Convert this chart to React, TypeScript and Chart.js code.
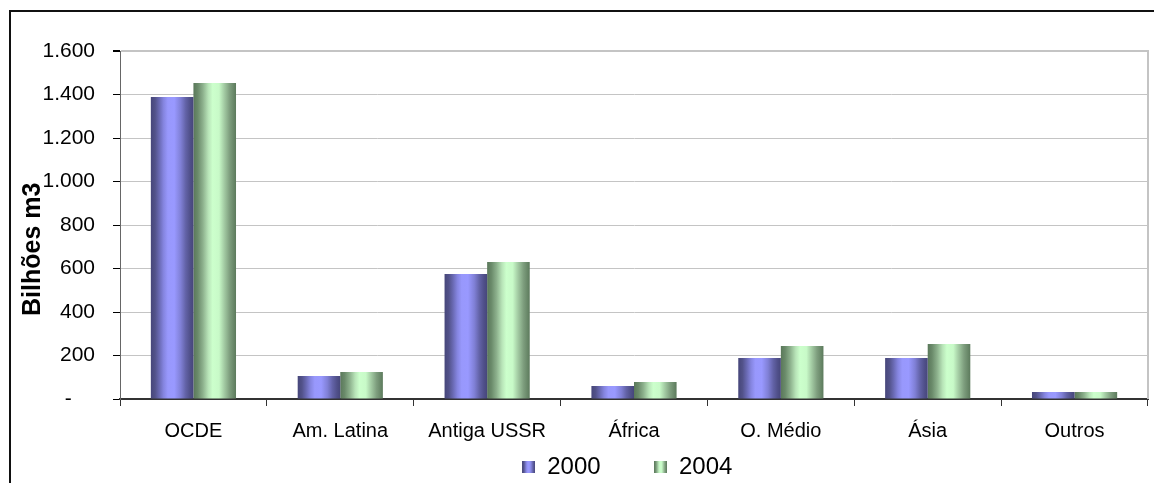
import React, { useEffect, useRef } from 'react';
import { Chart, registerables } from 'chart.js';

Chart.register(...registerables);

// ---- data ----
const categories = ['OCDE', 'Am. Latina', 'Antiga USSR', 'África', 'O. Médio', 'Ásia', 'Outros'];
const series2000 = [1388, 106, 575, 60, 188, 188, 32];
const series2004 = [1453, 124, 630, 78, 244, 253, 32];
const seriesNames = ['2000', '2004'];
const yTickValues = [0, 200, 400, 600, 800, 1000, 1200, 1400, 1600];
const yTickLabels = ['-', '200', '400', '600', '800', '1.000', '1.200', '1.400', '1.600'];
const yAxisTitle = 'Bilhões m3';

// ---- styles ----
const FONT = "'Liberation Sans', Arial, sans-serif";
const CATEGORY_PCT = 0.58;
const NB = '\u00a0';

const stops2000: [number, string][] = [
  [0, '#46467a'], [0.1, '#52528a'], [0.2, '#6a6ab4'], [0.3, '#8585e0'], [0.4, '#9898fc'],
  [0.55, '#9999ff'], [0.7, '#8080d6'], [0.82, '#6262a6'], [0.92, '#50508a'], [1, '#46467a'],
];
const stops2004: [number, string][] = [
  [0, '#5a785a'], [0.1, '#6a8a6a'], [0.22, '#8cb08c'], [0.35, '#b8e4b8'], [0.45, '#ccffcc'],
  [0.6, '#c8fac8'], [0.72, '#a4cca4'], [0.85, '#7e9e7e'], [1, '#5c7a5c'],
];

function barFill(stops: [number, string][], datasetIndex: number) {
  return (ctx: any) => {
    const chart = ctx.chart;
    const xs = chart.scales && chart.scales.x;
    if (ctx.type !== 'data' || !xs || !xs.width) return stops[4][1];
    const n = categories.length;
    const catW = xs.width / n;
    const group = catW * CATEGORY_PCT;
    const slot = group / 2;
    const center = xs.getPixelForValue(ctx.dataIndex);
    const left = center - group / 2 + slot * datasetIndex;
    const g = chart.ctx.createLinearGradient(left, 0, left + slot, 0);
    stops.forEach(([o, c]) => g.addColorStop(o, c));
    return g;
  };
}

function makeSwatch(stops: [number, string][]) {
  const c = document.createElement('canvas');
  c.width = 13;
  c.height = 12;
  const g2 = c.getContext('2d')!;
  const gr = g2.createLinearGradient(0, 0, 13, 0);
  stops.forEach(([o, col]) => gr.addColorStop(o, col));
  g2.fillStyle = gr;
  g2.fillRect(0, 0, 13, 12);
  return c;
}

const framePlugin = {
  id: 'frame',
  beforeDatasetsDraw(chart: any) {
    const { ctx, chartArea } = chart;
    ctx.save();
    ctx.strokeStyle = '#c4c4c4';
    ctx.lineWidth = 2;
    ctx.beginPath();
    ctx.moveTo(chartArea.right, chartArea.top - 1);
    ctx.lineTo(chartArea.right, chartArea.bottom);
    ctx.stroke();
    ctx.restore();
  },
  afterDraw(chart: any) {
    const { ctx, width, height } = chart;
    ctx.save();
    ctx.strokeStyle = '#111';
    ctx.lineWidth = 2;
    ctx.beginPath();
    ctx.moveTo(10, height + 2);
    ctx.lineTo(10, 11);
    ctx.lineTo(width + 2, 11);
    ctx.stroke();
    ctx.restore();
  },
};

export default function App() {
  const ref = useRef<HTMLCanvasElement>(null);

  useEffect(() => {
    if (!ref.current) return;
    Chart.defaults.font.family = FONT;
    Chart.defaults.color = '#000';
    const swatches = [makeSwatch(stops2000), makeSwatch(stops2004)];
    const legendTexts = [seriesNames[0] + NB.repeat(8), seriesNames[1] + NB.repeat(2)];

    const chart = new Chart(ref.current, {
      type: 'bar',
      data: {
        labels: categories,
        datasets: [
          { label: seriesNames[0], data: series2000, backgroundColor: barFill(stops2000, 0) as any },
          { label: seriesNames[1], data: series2004, backgroundColor: barFill(stops2004, 1) as any },
        ],
      },
      options: {
        responsive: false,
        animation: false,
        layout: { padding: { top: 51, right: 6, left: 0, bottom: 0 } },
        datasets: { bar: { categoryPercentage: CATEGORY_PCT, barPercentage: 1 } },
        scales: {
          x: {
            grid: { offset: true, drawOnChartArea: false, tickLength: 7, tickColor: '#333', color: '#333' },
            border: { color: '#333', width: 2 },
            ticks: { font: { size: 20 }, color: '#000', padding: 13, maxRotation: 0, autoSkip: false },
            afterFit: (s: any) => { s.height = 56; },
          },
          y: {
            min: 0,
            max: 1600,
            afterBuildTicks: (s: any) => { s.ticks = yTickValues.map((v) => ({ value: v })); },
            ticks: {
              font: { size: 21 },
              color: '#000',
              padding: 18,
              callback: (_v: any, i: number) => (i === 0 ? yTickLabels[0] + NB.repeat(4) : yTickLabels[i]),
            },
            grid: {
              color: '#c4c4c4',
              tickColor: '#000',
              tickLength: 7,
              lineWidth: (c: any) => (c.tick && c.tick.value === 1600 ? 2 : 1),
            },
            border: { color: '#666', width: 1 },
            title: {
              display: true,
              text: yAxisTitle + NB.repeat(7),
              font: { size: 25, weight: 'bold' },
              color: '#000',
              padding: { top: 18, bottom: 0 },
            },
            afterFit: (s: any) => { s.width = 120; },
          },
        },
        plugins: {
          title: { display: false },
          tooltip: { enabled: false },
          legend: {
            position: 'bottom',
            fullSize: false,
            maxHeight: 28,
            labels: {
              usePointStyle: true,
              boxWidth: 13,
              boxHeight: 12,
              padding: 0,
              font: { size: 24 },
              color: '#000',
              generateLabels: () =>
                legendTexts.map((t, i) => ({
                  text: t,
                  pointStyle: swatches[i] as any,
                  fillStyle: 'transparent',
                  strokeStyle: 'transparent',
                  lineWidth: 0,
                  hidden: false,
                  datasetIndex: i,
                  fontColor: '#000',
                })),
            },
          },
        },
      } as any,
      plugins: [framePlugin],
    });
    return () => chart.destroy();
  }, []);

  return (
    <div style={{ position: 'fixed', left: 0, top: 0, width: 1154, height: 483, background: '#fff' }}>
      <canvas ref={ref} width={1154} height={483} style={{ display: 'block' }} />
    </div>
  );
}
